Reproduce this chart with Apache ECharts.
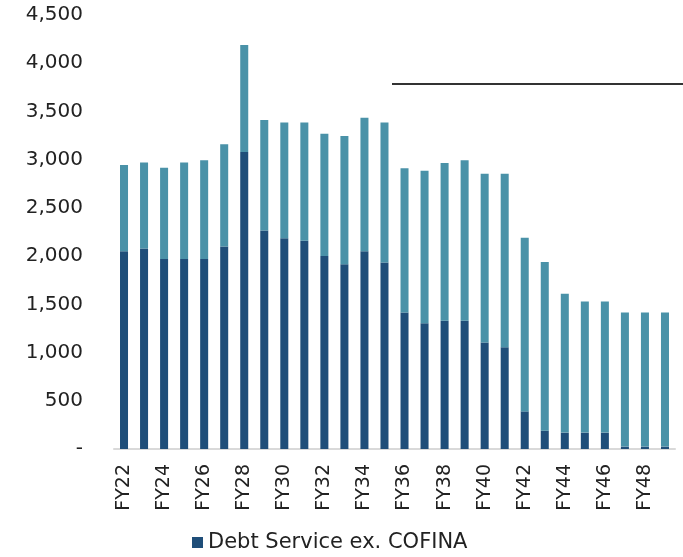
<!DOCTYPE html>
<html><head><meta charset="utf-8">
<script src="https://cdn.jsdelivr.net/npm/echarts@6/dist/echarts.min.js"></script>
<style>html,body{margin:0;padding:0;background:#fff}#c{width:683px;height:557px}</style>
</head><body><div id="c"></div>
<script>
const categories = ['FY22','FY23','FY24','FY25','FY26','FY27','FY28','FY29','FY30','FY31','FY32','FY33','FY34','FY35','FY36','FY37','FY38','FY39','FY40','FY41','FY42','FY43','FY44','FY45','FY46','FY47','FY48','FY49'];
const debtExCofina = [2050,2080,1970,1970,1970,2100,3080,2265,2185,2160,2000,1915,2050,1935,1415,1305,1330,1330,1105,1055,390,190,170,170,170,25,25,25];
const totalDebt = [2945,2970,2915,2970,2995,3160,4190,3410,3385,3385,3270,3245,3435,3385,2910,2885,2965,2995,2855,2855,2190,1940,1610,1530,1530,1415,1415,1415];
const cofina = totalDebt.map((t,i)=>t-debtExCofina[i]);
const yTicks = {min:0,max:4500,interval:500};
const FONT = 'DejaVu Sans';
const chart = echarts.init(document.getElementById('c'));
chart.setOption({
  animation:false,
  grid:{left:114,right:8,top:15,bottom:108},
  legend:{data:['Debt Service ex. COFINA'],top:527,left:187,itemWidth:11,itemHeight:11,itemGap:6,
    textStyle:{fontFamily:FONT,fontSize:21,color:'#222'},icon:'rect'},
  xAxis:{type:'category',data:categories,
    axisLine:{lineStyle:{color:'#d9d9d9',width:2}},axisTick:{show:false},
    axisLabel:{rotate:90,interval:1,fontFamily:FONT,fontSize:19,color:'#222',margin:15}},
  yAxis:{type:'value',min:yTicks.min,max:yTicks.max,interval:yTicks.interval,
    splitLine:{show:false},axisLine:{show:false},axisTick:{show:false},
    axisLabel:{fontFamily:FONT,fontSize:20,color:'#222',margin:31,
      formatter:v=>v===0?'-':v.toLocaleString('en-US')}},
  series:[
    {name:'Debt Service ex. COFINA',type:'bar',stack:'a',data:debtExCofina,barWidth:'40%',itemStyle:{color:'#1F4E79'}},
    {name:'COFINA',type:'bar',stack:'a',data:cofina,barWidth:'40%',itemStyle:{color:'#4A92A8'}}
  ],
  graphic:[{type:'line',shape:{x1:392,y1:84,x2:683,y2:84},style:{stroke:'#333',lineWidth:2}}]
});
</script></body></html>
